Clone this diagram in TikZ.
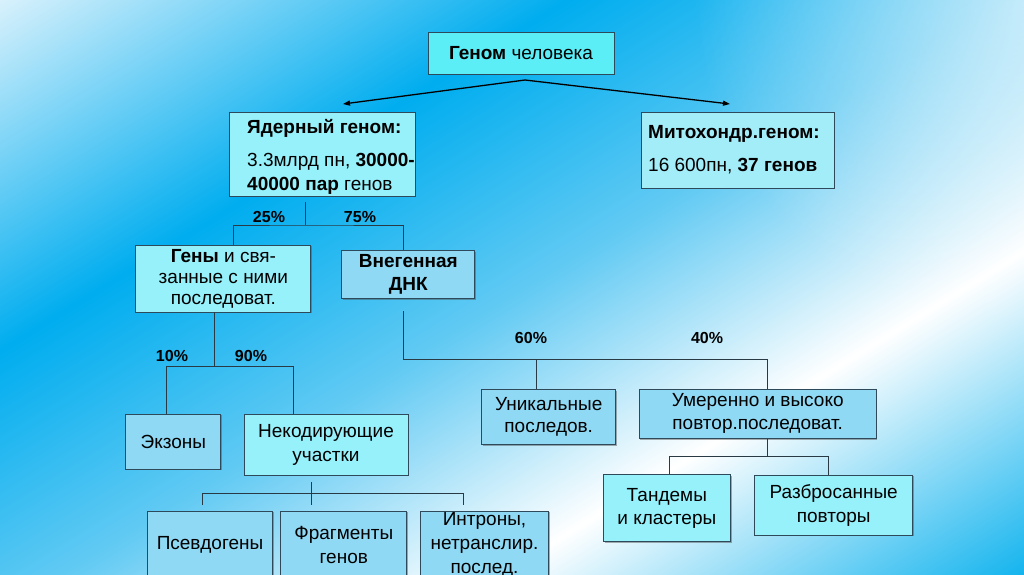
\documentclass[tikz,border=0pt]{standalone}
\usepackage{fontspec}
\setmainfont{Liberation Sans}
\usetikzlibrary{arrows.meta,shadows,fadings}
\definecolor{startc}{HTML}{D8F1FC}
\definecolor{deepb}{HTML}{00ADEF}
\definecolor{midb}{HTML}{62CAF3}
\definecolor{deepb2}{HTML}{14B4EE}
\definecolor{topc}{HTML}{5CEEF7}
\definecolor{cyanc}{HTML}{96F1FA}
\definecolor{bluec}{HTML}{8FD9F4}
\definecolor{mitoc}{HTML}{A3EDF9}
\definecolor{bordc}{HTML}{2E4A5A}
\definecolor{linec}{HTML}{2A3A44}
\pgfdeclarehorizontalshading{bgshade}{100bp}{color(0bp)=(startc); color(25bp)=(startc); color(39.5bp)=(deepb); color(50.5bp)=(midb); color(61.6bp)=(white); color(75bp)=(deepb2); color(100bp)=(deepb2)}
\tikzfading[name=glow, inner color=transparent!0, outer color=transparent!100]
\tikzset{
  box/.style={draw=bordc, line width=0.9pt, align=center, inner sep=0pt,
    drop shadow={shadow xshift=1.2pt, shadow yshift=-1.2pt, opacity=0.45, fill=black!70},
    font=\fontsize{19}{24}\selectfont},
  txt/.style={inner sep=0pt, font=\fontsize{19}{24}\selectfont},
  pct/.style={inner sep=0pt, font=\fontsize{16}{18}\selectfont\bfseries},
  conn/.style={draw=linec, line width=1pt},
  arr/.style={draw=black, line width=1.3pt, -{Triangle[length=7pt,width=5pt]}}
}
\begin{document}
\begin{tikzpicture}[x=1pt,y=-1pt]
\useasboundingbox (0,0) rectangle (1024,574);
\begin{scope}
\clip (0,0) rectangle (1024,574);
\begin{scope}[transform canvas={rotate=-58.3}]
\shade[shading=bgshade] (0,-1500) rectangle (1027,1500);
\end{scope}
\fill[white, opacity=0.6, path fading=glow] (1024,0) circle (330);

% boxes
\node[box, fill=topc, minimum width=186pt, minimum height=42pt] (genome) at (521,53) {\textbf{Геном} человека};
\node[box, fill=cyanc, minimum width=186pt, minimum height=84pt] (nuc) at (322,154) {};
\node[txt, anchor=west, align=left] (nuctxt) at (247,157) {\textbf{Ядерный геном:}\\[9pt]3.3млрд пн, \textbf{30000-}\\\textbf{40000 пар} генов};
\node[box, fill=mitoc, minimum width=193pt, minimum height=76pt] (mito) at (737.5,150) {};
\node[txt, anchor=west, align=left] (mitotxt) at (648,150) {\textbf{Митохондр.геном:}\\[9pt]16 600пн, \textbf{37 генов}};

\node[box, fill=cyanc, minimum width=175pt, minimum height=67pt, font=\fontsize{19}{21}\selectfont] (gen) at (223.4,278.5) {\textbf{Гены} и свя-\\занные с ними\\последоват.};
\node[box, fill=bluec, minimum width=133pt, minimum height=48pt, font=\fontsize{19}{23}\selectfont] (vneg) at (408.4,274.8) {\textbf{Внегенная}\\\textbf{ДНК}};

\node[box, fill=bluec, minimum width=95pt, minimum height=55pt] (exon) at (173.4,441.7) {Экзоны};
\node[box, fill=cyanc, minimum width=164pt, minimum height=61pt] (noncod) at (326,444.5) {Некодирующие\\участки};

\node[box, fill=bluec, minimum width=125pt, minimum height=68pt] (pseudo) at (210,545) {Псевдогены};
\node[box, fill=bluec, minimum width=126pt, minimum height=68pt] (frag) at (343.8,545) {Фрагменты\\генов};
\node[box, fill=bluec, minimum width=128pt, minimum height=68pt] (intr) at (484.5,545) {Интроны,\\нетранслир.\\послед.};

\node[box, fill=bluec, minimum width=134pt, minimum height=55pt, font=\fontsize{19}{22}\selectfont] (uniq) at (548.7,416.8) {Уникальные\\последов.};
\node[box, fill=bluec, minimum width=237pt, minimum height=49pt, font=\fontsize{19}{23}\selectfont] (umer) at (757.7,413.8) {Умеренно и высоко\\повтор.последоват.};
\node[box, fill=cyanc, minimum width=127pt, minimum height=67pt, font=\fontsize{19}{23}\selectfont] (tand) at (666.8,508.3) {Тандемы\\и кластеры};
\node[box, fill=cyanc, minimum width=158pt, minimum height=60pt] (razb) at (833.7,505) {Разбросанные\\повторы};

% percentages
\node[pct] (p25) at (269,217) {25\%};
\node[pct] (p75) at (360,217) {75\%};
\node[pct] (p10) at (172,356) {10\%};
\node[pct] (p90) at (251,356) {90\%};
\node[pct] (p60) at (531,338) {60\%};
\node[pct] (p40) at (707,338) {40\%};

% arrows from genome
\coordinate (apex) at (525,80);
\coordinate (nucin) at (343,104);
\coordinate (mitoin) at (730,104);
\draw[arr] (apex) -- (nucin);
\draw[arr] (apex) -- (mitoin);

% tree: nuclear
\coordinate (n1) at (305,202);
\coordinate (n2) at (305,225);
\draw[conn] (n1) -- (n2);
\draw[conn] (gen.north -| 233,0) |- (n2) -| (vneg.north -| 403,0);

% tree: genes
\coordinate (g1) at (214,312);
\coordinate (g2) at (214,366);
\draw[conn] (g1) -- (g2);
\draw[conn] (exon.north -| 166,0) |- (g2) -| (noncod.north -| 293,0);

% tree: extragenic
\coordinate (v1) at (403,311);
\coordinate (v2) at (403,359);
\draw[conn] (v1) -- (v2) -- (767,359) -- (umer.north -| 767,0);
\draw[conn] (536,359) -- (uniq.north -| 536,0);

% tree: noncoding
\coordinate (c1) at (311,482);
\coordinate (c2) at (311,505);
\coordinate (cl) at (202,505);
\coordinate (cr) at (463,505);
\draw[conn] (c1) -- (c2);
\draw[conn] (cl) -- (202,493) -- (463,493) -- (cr);

% tree: repeats
\coordinate (r1) at (767,438);
\coordinate (r2) at (767,456);
\draw[conn] (umer.south -| r1) -- (r2);
\draw[conn] (tand.north -| 669,0) |- (r2) -| (razb.north -| 828,0);
\end{scope}
\end{tikzpicture}
\end{document}
